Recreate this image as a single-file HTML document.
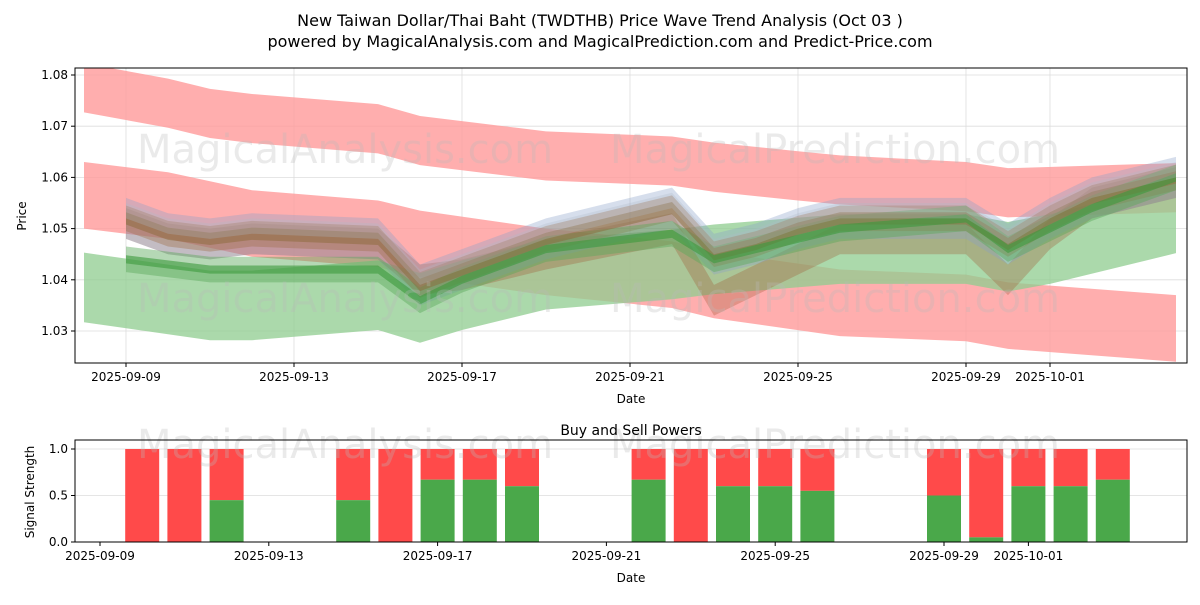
<!DOCTYPE html>
<html><head><meta charset="utf-8"><style>
body{margin:0;background:#fff;font-family:"Liberation Sans","DejaVu Sans",sans-serif}
svg text{font-family:"DejaVu Sans","Liberation Sans",sans-serif}
</style></head><body>
<svg id="c" width="1200" height="600" xmlns="http://www.w3.org/2000/svg">
<defs><clipPath id="clipTop"><rect x="75" y="68" width="1112" height="295"/></clipPath></defs>
<text x="600" y="26" text-anchor="middle" font-size="16">New Taiwan Dollar/Thai Baht (TWDTHB) Price Wave Trend Analysis (Oct 03 )</text>
<text x="600" y="47" text-anchor="middle" font-size="16">powered by MagicalAnalysis.com and MagicalPrediction.com and Predict-Price.com</text>
<g id="topPanel"></g>
<g id="botPanel"></g>
</svg>
<script>
const upperDays=[8,10,11,12,15,16,18,19,22,23,25,26,29,30,34];
const upperMid=[1.0775,1.0745,1.0725,1.0715,1.0695,1.0672,1.0652,1.0642,1.0632,1.062,1.0603,1.0595,1.0582,1.057,1.058];
const midDays=[8,10,12,15,16,19,22,23,26,29,30,34];
const midMid=[1.0565,1.0545,1.051,1.049,1.047,1.0435,1.041,1.039,1.0355,1.0345,1.033,1.0305];
const lowDays=[8,11,12,15,16,17,19,22,23,26,29,30,31,34];
const lowMid=[1.0385,1.035,1.035,1.037,1.0345,1.037,1.041,1.043,1.044,1.046,1.046,1.0445,1.046,1.052];
const priceDays=[9,10,11,12,15,16,17,18,19,22,23,24,25,26,29,30,31,32,34];
const priceA=[1.052,1.049,1.048,1.049,1.048,1.039,1.042,1.045,1.048,1.054,1.045,1.047,1.050,1.052,1.052,1.047,1.052,1.056,1.060];
const priceB=[1.044,1.043,1.042,1.042,1.042,1.036,1.040,1.043,1.046,1.049,1.044,1.046,1.048,1.050,1.052,1.046,1.050,1.054,1.060];
const priceC=[1.051,1.048,1.047,1.048,1.047,1.040,1.041,1.043,1.045,1.050,1.036,1.040,1.044,1.048,1.048,1.040,1.049,1.055,1.059];
const yTicks=[1.03,1.04,1.05,1.06,1.07,1.08];
const xTickDays=[9,13,17,21,25,29,31];
const xTickLabels=["2025-09-09","2025-09-13","2025-09-17","2025-09-21","2025-09-25","2025-09-29","2025-10-01"];
const barDays=[10,11,12,15,16,17,18,19,22,23,24,25,26,29,30,31,32,33];
const buyVals=[0,0,0.45,0.45,0,0.67,0.67,0.6,0.67,0,0.6,0.6,0.55,0.5,0.05,0.6,0.6,0.67];
const sigTicks=[0,0.5,1.0];
const sigTickLabels=["0.0","0.5","1.0"];

const NS="http://www.w3.org/2000/svg";
function mk(p,t,a){const e=document.createElementNS(NS,t);for(const k in a)e.setAttribute(k,a[k]);p.appendChild(e);return e;}
const topG=document.getElementById('topPanel'),botG=document.getElementById('botPanel');
const X=d=>126+(d-9)*42, Y=v=>331-(v-1.03)*5120;
const L=75,R=1187,T=68,B=363;
mk(topG,'rect',{x:L,y:T,width:R-L,height:B-T,fill:'#fff'});
yTicks.forEach(v=>{mk(topG,'line',{x1:L,x2:R,y1:Y(v),y2:Y(v),stroke:'#ddd','stroke-width':0.8});});
xTickDays.forEach(d=>{mk(topG,'line',{x1:X(d),x2:X(d),y1:T,y2:B,stroke:'#ddd','stroke-width':0.8});});
const bandG=mk(topG,'g',{'clip-path':'url(#clipTop)'});
function band(days,mid,hw,fill,op,dy){
  let pts=[];days.forEach((d,i)=>pts.push(X(d)+','+Y(mid[i]+hw+dy)));
  for(let i=days.length-1;i>=0;i--)pts.push(X(days[i])+','+Y(mid[i]-hw+dy));
  const e=mk(bandG,'polygon',{points:pts.join(' '),fill:fill,opacity:op});
  
  
}
band(upperDays,upperMid,0.0048,'#ff9a9a',0.8,0);
band(midDays,midMid,0.0065,'#ff9a9a',0.8,0);
band(lowDays,lowMid,0.0068,'#8fcc8f',0.75,0);
[[priceC,0.003,'#a0522d',0.3],[priceA,0.004,'#8aa0c8',0.35],[priceA,0.0025,'#a0704a',0.4],[priceB,0.0025,'#5aa85a',0.45],[priceA,0.0012,'#8b6a3a',0.5],[priceB,0.0008,'#3c9a3c',0.6]].forEach(s=>{
  band(priceDays,s[0],s[1],s[2],s[3],0);
});
band(priceDays,priceA,0.0015,'#b0b8c8',0.3,0.0015);
mk(topG,'rect',{x:L,y:T,width:R-L,height:B-T,fill:'none',stroke:'#000','stroke-width':1});
yTicks.forEach(v=>{mk(topG,'line',{x1:L-4,x2:L,y1:Y(v),y2:Y(v),stroke:'#000'});
  const t=mk(topG,'text',{x:L-7,y:Y(v)+4,'text-anchor':'end','font-size':12});t.textContent=v.toFixed(2);});
xTickDays.forEach((d,i)=>{mk(topG,'line',{x1:X(d),x2:X(d),y1:B,y2:B+4,stroke:'#000'});
  const t=mk(topG,'text',{x:X(d),y:B+18,'text-anchor':'middle','font-size':12});t.textContent=xTickLabels[i];});
let t=mk(topG,'text',{x:631,y:403,'text-anchor':'middle','font-size':12});t.textContent='Date';
t=mk(topG,'text',{x:26,y:216,'text-anchor':'middle','font-size':12,transform:'rotate(-90 26 216)'});t.textContent='Price';
[[345,163],[835,163],[345,312],[835,312]].forEach((p,i)=>{const w=mk(topG,'text',{x:p[0],y:p[1],'text-anchor':'middle','font-size':40,fill:'#bbb',opacity:0.3});w.textContent=i%2?'MagicalPrediction.com':'MagicalAnalysis.com';});

const BX=d=>100+(d-9)*42.2, BY=v=>542-v*93;
const bT=440,bB=542;
mk(botG,'rect',{x:L,y:bT,width:R-L,height:bB-bT,fill:'#fff'});
sigTicks.forEach(v=>mk(botG,'line',{x1:L,x2:R,y1:BY(v),y2:BY(v),stroke:'#ddd','stroke-width':0.8}));
barDays.forEach((d,i)=>{
  const x=BX(d)-17;
  const r=mk(botG,'rect',{x:x,y:BY(1),width:34,height:BY(buyVals[i])-BY(1),fill:'#ff4a4a'});
  
  
  const g=mk(botG,'rect',{x:x,y:BY(buyVals[i]),width:34,height:BY(0)-BY(buyVals[i]),fill:'#4aa84a'});
  
  
});
[[345,458],[835,458]].forEach((p,i)=>{const w=mk(botG,'text',{x:p[0],y:p[1],'text-anchor':'middle','font-size':40,fill:'#bbb',opacity:0.3});w.textContent=i?'MagicalPrediction.com':'MagicalAnalysis.com';});
mk(botG,'rect',{x:L,y:bT,width:R-L,height:bB-bT,fill:'none',stroke:'#000'});
sigTicks.forEach((v,i)=>{mk(botG,'line',{x1:L-4,x2:L,y1:BY(v),y2:BY(v),stroke:'#000'});
  const t=mk(botG,'text',{x:L-7,y:BY(v)+4,'text-anchor':'end','font-size':12});t.textContent=sigTickLabels[i];});
xTickDays.forEach((d,i)=>{mk(botG,'line',{x1:BX(d),x2:BX(d),y1:bB,y2:bB+4,stroke:'#000'});
  const t=mk(botG,'text',{x:BX(d),y:bB+18,'text-anchor':'middle','font-size':12});t.textContent=xTickLabels[i];});
t=mk(botG,'text',{x:631,y:582,'text-anchor':'middle','font-size':12});t.textContent='Date';
t=mk(botG,'text',{x:631,y:435,'text-anchor':'middle','font-size':14});t.textContent='Buy and Sell Powers';
t=mk(botG,'text',{x:34,y:492,'text-anchor':'middle','font-size':12,transform:'rotate(-90 34 492)'});t.textContent='Signal Strength';
</script>
</body></html>
